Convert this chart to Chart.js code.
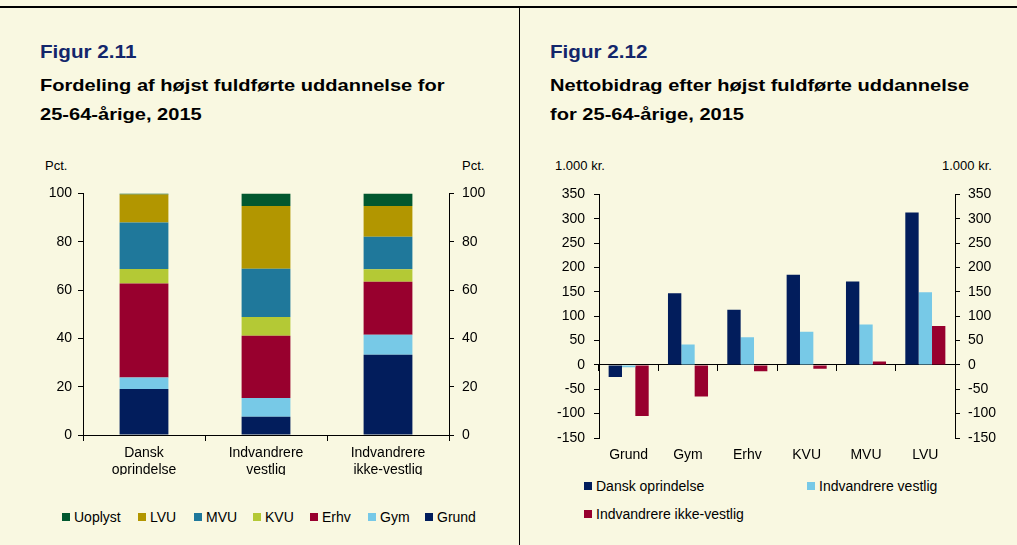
<!DOCTYPE html>
<html lang="da">
<head>
    <meta charset="UTF-8">
    <title>Figur 2.11 og 2.12</title>
    <script src="https://cdn.jsdelivr.net/npm/chart.js"></script>
    <style>
        body {
            margin: 0;
            width: 1017px;
            height: 545px;
            background: #f9f8e1;
            font-family: 'Liberation Sans', Arial, sans-serif;
            position: relative;
            overflow: hidden;
        }

        .topline {
            position: absolute;
            left: 0;
            top: 6px;
            width: 1017px;
            height: 2px;
            background: #000;
        }

        .divider {
            position: absolute;
            left: 519px;
            top: 7px;
            width: 1px;
            height: 540px;
            background: #000;
            z-index: 2;
        }

        .title {
            position: absolute;
            top: 38px;
            font-weight: bold;
            font-size: 17px;
            line-height: 29px;
            color: #000;
            white-space: nowrap;
            transform: scaleX(1.18);
            transform-origin: left top;
        }

        .title .fig {
            color: #13266b;
            display: block;
            margin-bottom: 4px;
            font-size: 17.5px;
        }

        .unit {
            position: absolute;
            top: 158px;
            font-size: 13px;
            color: #000;
        }

        canvas {
            position: absolute;
        }

        .legend {
            position: absolute;
            font-size: 14px;
            color: #000;
        }

        .legend span {
            position: absolute;
            white-space: nowrap;
        }

        .legend i {
            display: inline-block;
            width: 8px;
            height: 8px;
            margin-right: 4px;
            vertical-align: 1px;
        }
    </style>
</head>

<body>
    <div class="topline"></div>
    <div class="divider"></div>

    <div class="title" style="left:40px">
        <span class="fig">Figur 2.11</span>
        Fordeling af højst fuldførte uddannelse for<br>25-64-årige, 2015
    </div>
    <div class="title" style="left:550px">
        <span class="fig">Figur 2.12</span>
        Nettobidrag efter højst fuldførte uddannelse<br>for 25-64-årige, 2015
    </div>

    <div class="unit" style="left:45px">Pct.</div>
    <div class="unit" style="left:462px">Pct.</div>
    <div class="unit" style="left:555px">1.000 kr.</div>
    <div class="unit" style="left:942px">1.000 kr.</div>

    <canvas id="fordeling" width="519" height="303" style="left:0;top:177px"></canvas>
    <canvas id="nettobidrag" width="497" height="292" style="left:520px;top:177px"></canvas>

    <div class="legend" id="legend1"></div>
    <div class="legend" id="legend2"></div>

    <script>
        // Figur 2.11 - fordeling i pct.
        const groups = [['Dansk', 'oprindelse'], ['Indvandrere', 'vestlig'], ['Indvandrere', 'ikke-vestlig']];
        const grund = [19.0, 7.6, 33.2];
        const gym = [4.8, 7.7, 8.3];
        const erhv = [38.9, 25.8, 21.9];
        const kvu = [6.0, 7.7, 5.2];
        const mvu = [19.3, 20.0, 13.5];
        const lvu = [11.5, 26.0, 12.7];
        const uoplyst = [0.5, 5.2, 5.2];

        // Figur 2.12 - nettobidrag, 1.000 kr.
        const eduLevels = ['Grund', 'Gym', 'Erhv', 'KVU', 'MVU', 'LVU'];
        const danskOprindelse = [-25, 147, 113, 185, 171, 313];
        const indvVestlig = [-5, 42, 57, 68, 83, 149];
        const indvIkkeVestlig = [-105, -65, -13, -8, 7, 80];

        const C = {
            grund: '#021d5c',
            gym: '#77c9e7',
            erhv: '#98002e',
            kvu: '#b4c935',
            mvu: '#1f789b',
            lvu: '#b29600',
            uoplyst: '#02582f'
        };

        const tickFont = { family: "'Liberation Sans', Arial, sans-serif", size: 14 };

        function yAxis(position, min, max, step, width, pad) {
            return {
                position: position,
                min: min,
                max: max,
                stacked: true,
                ticks: { stepSize: step, color: '#000', font: tickFont, padding: pad },
                grid: { drawOnChartArea: false, color: '#000', tickColor: '#000', tickLength: 5 },
                border: { color: '#000', width: 1 },
                afterFit: s => { s.width = width; }
            };
        }

        // stacked bars, Grund at the bottom
        const stackSeries = [
            ['Grund', grund, C.grund],
            ['Gym', gym, C.gym],
            ['Erhv', erhv, C.erhv],
            ['KVU', kvu, C.kvu],
            ['MVU', mvu, C.mvu],
            ['LVU', lvu, C.lvu],
            ['Uoplyst', uoplyst, C.uoplyst]
        ];

        new Chart(document.getElementById('fordeling'), {
            type: 'bar',
            data: {
                labels: groups,
                datasets: stackSeries.map(s => ({
                    label: s[0],
                    data: s[1],
                    backgroundColor: s[2],
                    borderWidth: 0,
                    barPercentage: 0.4,
                    categoryPercentage: 1
                }))
            },
            options: {
                responsive: false,
                animation: false,
                devicePixelRatio: 1,
                layout: { padding: { left: 40, right: 27, top: 10, bottom: 5 } },
                plugins: { legend: { display: false }, tooltip: { enabled: false } },
                scales: {
                    x: {
                        stacked: true,
                        offset: true,
                        grid: { offset: true, drawOnChartArea: false, color: '#000', tickColor: '#000', tickLength: 6 },
                        border: { color: '#000', width: 1 },
                        ticks: { color: '#000', font: { ...tickFont, lineHeight: 1.2 }, padding: 4, maxRotation: 0, autoSkip: false },
                        afterFit: s => { s.height = 40; }
                    },
                    y: yAxis('left', 0, 100, 20, 43, 6),
                    y2: yAxis('right', 0, 100, 20, 43, 8)
                }
            }
        });

        const netSeries = [
            ['Dansk oprindelse', danskOprindelse, C.grund],
            ['Indvandrere vestlig', indvVestlig, C.gym],
            ['Indvandrere ikke-vestlig', indvIkkeVestlig, C.erhv]
        ];

        const y2a = yAxis('left', -150, 350, 50, 45, 9);
        const y2b = yAxis('right', -150, 350, 50, 45, 8);
        y2a.stacked = false;
        y2b.stacked = false;

        new Chart(document.getElementById('nettobidrag'), {
            type: 'bar',
            data: {
                labels: eduLevels,
                datasets: netSeries.map(s => ({
                    label: s[0],
                    data: s[1],
                    backgroundColor: s[2],
                    borderWidth: 0,
                    barPercentage: 1,
                    categoryPercentage: 0.675
                }))
            },
            options: {
                responsive: false,
                animation: false,
                devicePixelRatio: 1,
                layout: { padding: { left: 34, right: 17, top: 9, bottom: 1 } },
                plugins: { legend: { display: false }, tooltip: { enabled: false } },
                scales: {
                    // axis line at zero with the tick marks
                    x: {
                        position: { y: 0 },
                        offset: true,
                        grid: { offset: true, drawOnChartArea: false, color: '#000', tickColor: '#000', tickLength: 6 },
                        border: { color: '#000', width: 1 },
                        ticks: { display: false },
                        afterFit: s => { s.height = 6; }
                    },
                    // category labels at the bottom
                    xl: {
                        type: 'category',
                        position: 'bottom',
                        offset: true,
                        grid: { display: false, drawTicks: false },
                        border: { display: false },
                        ticks: { color: '#000', font: tickFont, padding: 9 },
                        afterFit: s => { s.height = 30; }
                    },
                    y: y2a,
                    y2: y2b
                }
            }
        });

        // legends
        function legend(el, items) {
            items.forEach(it => {
                const sp = document.createElement('span');
                sp.style.left = it[2] + 'px';
                sp.style.top = it[3] + 'px';
                sp.innerHTML = '<i style="background:' + it[1] + '"></i>' + it[0];
                el.appendChild(sp);
            });
        }

        legend(document.getElementById('legend1'), [
            ['Uoplyst', C.uoplyst, 62, 509],
            ['LVU', C.lvu, 138, 509],
            ['MVU', C.mvu, 194, 509],
            ['KVU', C.kvu, 253, 509],
            ['Erhv', C.erhv, 310, 509],
            ['Gym', C.gym, 368, 509],
            ['Grund', C.grund, 425, 509]
        ]);

        legend(document.getElementById('legend2'), [
            ['Dansk oprindelse', C.grund, 584, 478],
            ['Indvandrere vestlig', C.gym, 807, 478],
            ['Indvandrere ikke-vestlig', C.erhv, 584, 506]
        ]);
    </script>
</body>
</html>
